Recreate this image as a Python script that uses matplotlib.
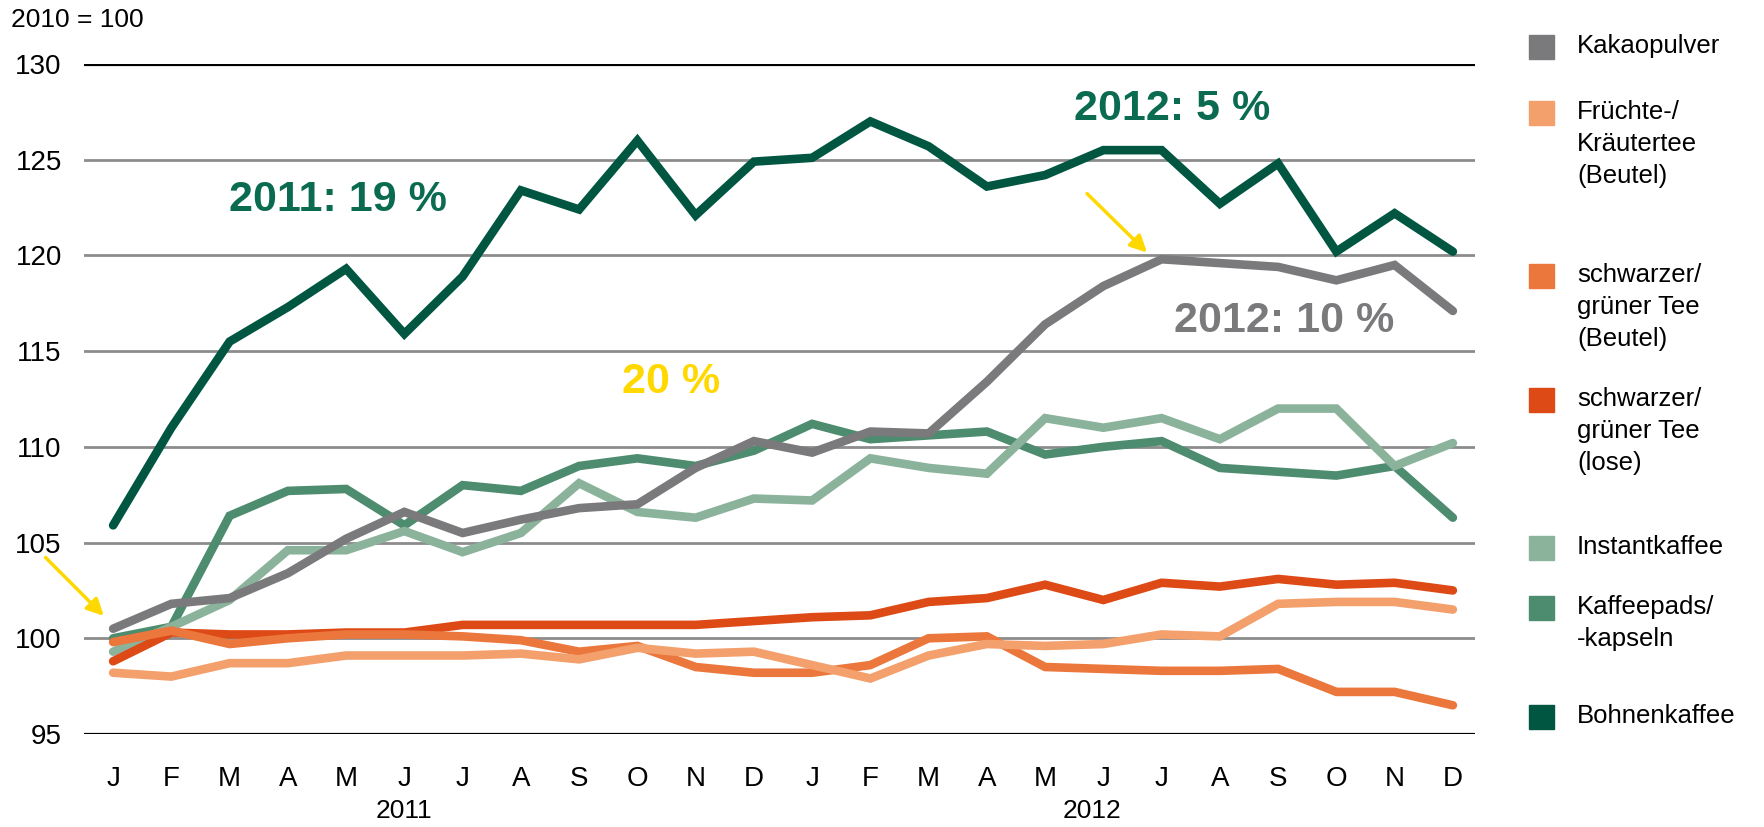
import matplotlib
matplotlib.use("Agg")
import matplotlib.pyplot as plt
from matplotlib.patches import Rectangle
from matplotlib.transforms import blended_transform_factory

plt.rcParams['font.family'] = ['Liberation Sans', 'DejaVu Sans']

months = ["J", "F", "M", "A", "M", "J", "J", "A", "S", "O", "N", "D"] * 2
years = ["2011", "2012"]
year_pos = [5.0, 16.8]

kakaopulver = [100.5, 101.8, 102.1, 103.4, 105.2, 106.6, 105.5, 106.2, 106.8, 107.0, 108.9, 110.3,
               109.7, 110.8, 110.7, 113.4, 116.4, 118.4, 119.8, 119.6, 119.4, 118.7, 119.5, 117.1]
fruechtetee = [98.2, 98.0, 98.7, 98.7, 99.1, 99.1, 99.1, 99.2, 98.9, 99.5, 99.2, 99.3,
               98.6, 97.9, 99.1, 99.7, 99.6, 99.7, 100.2, 100.1, 101.8, 101.9, 101.9, 101.5]
tee_beutel = [99.8, 100.4, 99.7, 100.0, 100.2, 100.2, 100.1, 99.9, 99.3, 99.6, 98.5, 98.2,
              98.2, 98.6, 100.0, 100.1, 98.5, 98.4, 98.3, 98.3, 98.4, 97.2, 97.2, 96.5]
tee_lose = [98.8, 100.3, 100.2, 100.2, 100.3, 100.3, 100.7, 100.7, 100.7, 100.7, 100.7, 100.9,
            101.1, 101.2, 101.9, 102.1, 102.8, 102.0, 102.9, 102.7, 103.1, 102.8, 102.9, 102.5]
instantkaffee = [99.3, 100.6, 102.0, 104.6, 104.6, 105.6, 104.5, 105.5, 108.1, 106.6, 106.3, 107.3,
                 107.2, 109.4, 108.9, 108.6, 111.5, 111.0, 111.5, 110.4, 112.0, 112.0, 109.0, 110.2]
kaffeepads = [100.0, 100.6, 106.4, 107.7, 107.8, 105.9, 108.0, 107.7, 109.0, 109.4, 109.0, 109.8,
              111.2, 110.4, 110.6, 110.8, 109.6, 110.0, 110.3, 108.9, 108.7, 108.5, 109.0, 106.3]
bohnenkaffee = [105.9, 111.0, 115.5, 117.3, 119.3, 115.9, 118.9, 123.4, 122.4, 126.0, 122.1, 124.9,
                125.1, 127.0, 125.7, 123.6, 124.2, 125.5, 125.5, 122.7, 124.8, 120.2, 122.2, 120.2]

legend_labels = ["Kakaopulver", "Früchte-/\nKräutertee\n(Beutel)", "schwarzer/\ngrüner Tee\n(Beutel)",
                 "schwarzer/\ngrüner Tee\n(lose)", "Instantkaffee", "Kaffeepads/\n-kapseln", "Bohnenkaffee"]
series = [kakaopulver, fruechtetee, tee_beutel, tee_lose, instantkaffee, kaffeepads, bohnenkaffee]
colors = ["#7A7A7C", "#F3A06C", "#EB773C", "#DD4A16", "#8BB39B", "#4E8C70", "#005640"]

yticks = [95, 100, 105, 110, 115, 120, 125, 130]

fig = plt.figure(figsize=(17.65, 8.27), dpi=100)
ax = fig.add_axes([84/1765, 1-734/827, (1475-84)/1765, 670/827])

x = list(range(len(months)))
for yv in yticks:
    if yv in (95, 130):
        ax.axhline(yv, color="black", lw=2.3, zorder=1)
    else:
        ax.axhline(yv, color="#8C8C8C", lw=2.0, zorder=1)

for i in range(len(series) - 1, -1, -1):
    ax.plot(x, series[i], color=colors[i], lw=6.2, solid_capstyle="round",
            solid_joinstyle="miter", zorder=3 + (len(series) - i))

ax.set_xlim(-0.5, 23.38)
ax.set_ylim(95, 130)
ax.set_yticks(yticks)
ax.set_yticklabels([str(v) for v in yticks], fontsize=20)
ax.set_xticks(x)
ax.set_xticklabels(months, fontsize=20)
ax.tick_params(axis="y", length=0, pad=16)
ax.tick_params(axis="x", length=0, pad=23)
for s in ax.spines.values():
    s.set_visible(False)

trans = blended_transform_factory(ax.transData, ax.transAxes)
for yr, xp in zip(years, year_pos):
    ax.text(xp, -0.115, yr, transform=trans, ha="center", va="center", fontsize=19)

fig.text(0.006, 1-20/827, "2010 = 100", ha="left", va="center", fontsize=19)

# annotations
ax.text(3.86, 122.9, "2011: 19 %", color="#0A6B50", fontsize=31, fontweight="bold", ha="center", va="center")
ax.text(18.18, 127.65, "2012: 5 %", color="#0A6B50", fontsize=31, fontweight="bold", ha="center", va="center")
ax.text(20.1, 116.55, "2012: 10 %", color="#7A7A7C", fontsize=31, fontweight="bold", ha="center", va="center")
ax.text(9.57, 113.4, "20 %", color="#FFD800", fontsize=31, fontweight="bold", ha="center", va="center")

arrowprops = dict(arrowstyle="-|>,head_length=1.0,head_width=0.5", color="#FFD800", lw=2.5,
                  shrinkA=0, shrinkB=0)
ax.annotate("", xy=(-0.16, 101.17), xytext=(-1.16, 104.22), arrowprops=arrowprops,
            annotation_clip=False, zorder=20)
ax.annotate("", xy=(17.75, 120.15), xytext=(16.72, 123.23), arrowprops=arrowprops,
            annotation_clip=False, zorder=20)

# legend
sq = 24
sq_x = 1529
text_x = 1577
entry_y = [47, 113, 276, 400, 548, 608, 717]
for lab, col, ey in zip(legend_labels, colors, entry_y):
    fig.patches.append(Rectangle((sq_x / 1765, 1 - (ey + sq / 2) / 827), 25 / 1765, sq / 827,
                                 transform=fig.transFigure, color=col))
    fig.text(text_x / 1765, 1 - (ey - 13) / 827, lab, ha="left", va="top", fontsize=18.5,
             linespacing=1.42)

fig.savefig("out.png", dpi=100)
